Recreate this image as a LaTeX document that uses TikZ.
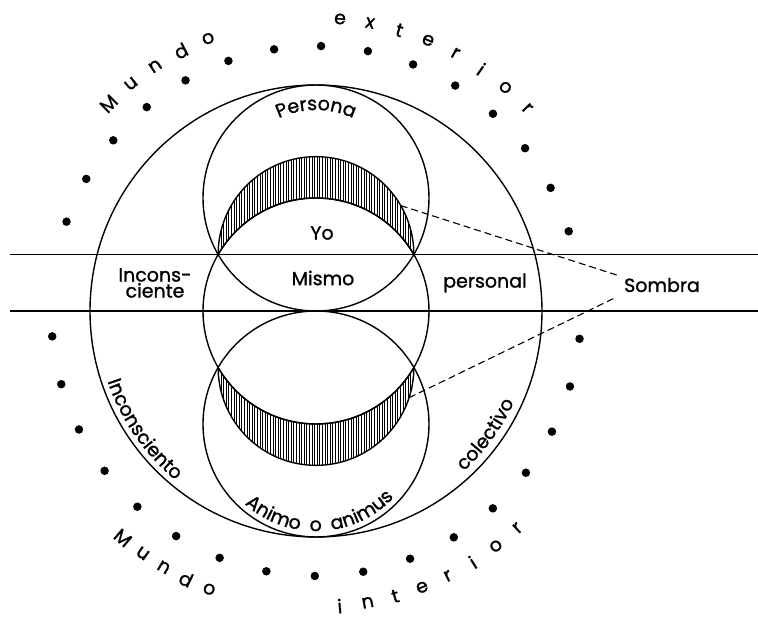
\documentclass[tikz,border=0pt]{standalone}
\usepackage{fontspec}
\setmainfont{Poppins}[FakeBold=1.2]
\usetikzlibrary{patterns.meta,decorations.text}
\newcommand\lblfont{\fontsize{19}{21}\selectfont}
\begin{document}
\begin{tikzpicture}[x=1pt,y=1pt,font=\lblfont,
  ring/.style={line width=1.4pt},
  crescent/.style={line width=1.4pt,pattern={Lines[angle=90,distance=2.6pt,line width=0.9pt]}},
  dot/.style={circle,fill,inner sep=0pt,minimum size=8.5pt},
  curved/.style={decorate,decoration={text along path,text align=center,text={|\lblfont|#1}}},
  shadow/.style={line width=1.1pt,dash pattern=on 7pt off 4pt}]
\useasboundingbox (-316,-310) rectangle (442,311);
\draw[crescent] (-97.86,56.5) arc[start angle=180,end angle=0,radius=97.86]
  arc[start angle=30,end angle=150,radius=113] -- cycle;
\draw[crescent] (-97.86,-56.5) arc[start angle=180,end angle=360,radius=97.86]
  arc[start angle=-30,end angle=-150,radius=113] -- cycle;
\draw[ring] (0,0) circle[radius=226];
\draw[ring] (0,113) circle[radius=113];
\draw[ring] (0,0) circle[radius=113];
\draw[ring] (0,-113) circle[radius=113];
\draw[ring] (-306,56.5) -- (442,56.5);
\draw[ring] (-306,0) -- (442,0);
\foreach \a in {0,...,14} \node[dot] (top\a) at ({17.5+10.2*\a}:265) {};
\foreach \a in {0,...,16} \node[dot] (bot\a) at ({185.5+10.53*\a}:265) {};
\foreach \c [count=\k] in {M,u,n,d,o}
  \node[rotate={45-5.85*(\k-1)}] (mext\k) at ({135-5.85*(\k-1)}:293) {\c};
\foreach \c [count=\k] in {e,x,t,e,r,i,o,r}
  \node[rotate={-4.7-5.93*(\k-1)}] (ext\k) at ({85.3-5.93*(\k-1)}:293) {\c};
\foreach \c [count=\k] in {M,u,n,d,o}
  \node[rotate={319.6+4.85*(\k-1)}] (mint\k) at ({229.6+4.85*(\k-1)}:298) {\c};
\foreach \c [count=\k] in {i,n,t,e,r,i,o,r}
  \node[rotate={364.6+5.47*(\k-1)}] (int\k) at ({274.6+5.47*(\k-1)}:296) {\c};
\path[curved={Persona}] ([shift={(0,113)}]130:88) arc[start angle=130,end angle=50,radius=88];
\path[curved={Inconsciento}] (196:220) arc[start angle=196,end angle=233,radius=220];
\path[curved={colectivo}] (-51:218) arc[start angle=-51,end angle=-21,radius=218];
\path[curved={Animo \ o \ animus}] ([shift={(0,-113)}]212:107) arc[start angle=212,end angle=333,radius=107];
\node (yo) at (6,78) {Yo};
\node (mismo) at (7,33) {Mismo};
\node[align=center,inner sep=0pt] (incons) at (-161,28) {Incons-\\[-5pt]ciente};
\node (personal) at (169,28) {personal};
\node (sombra) at (346,26) {Sombra};
\coordinate (up) at ([shift={(0,56.5)}]30:97.86);
\coordinate (down) at ([shift={(0,-56.5)}]-18:97.86);
\draw[shadow] (up) -- ([xshift=-4pt,yshift=10pt]sombra.west);
\draw[shadow] (down) -- ([xshift=-4pt,yshift=-12pt]sombra.west);
\end{tikzpicture}
\end{document}
